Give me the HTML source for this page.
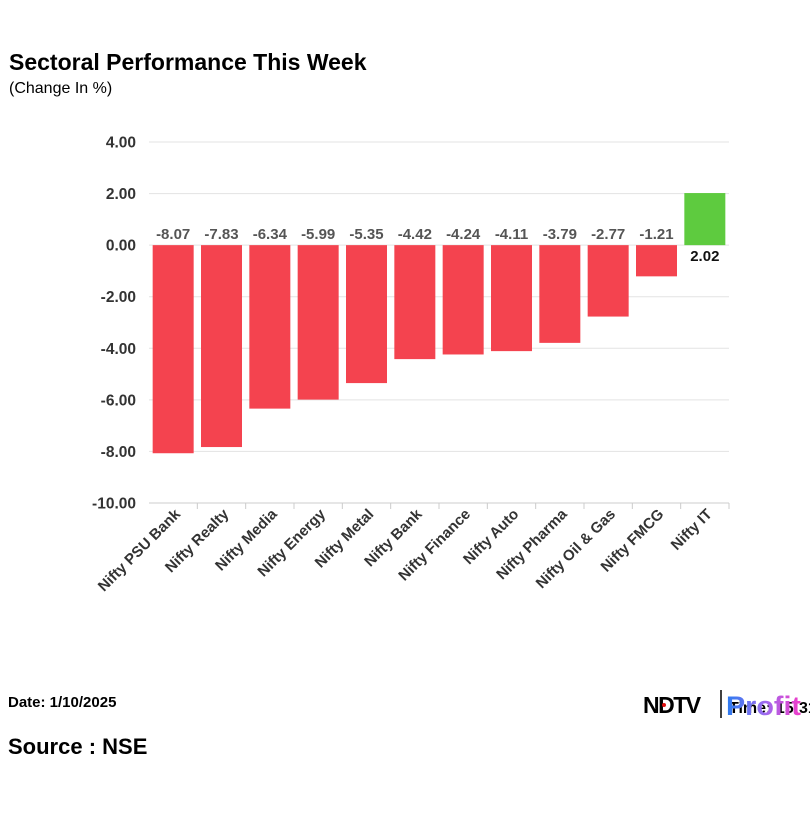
<!DOCTYPE html>
<html><head><meta charset="utf-8"><style>
body{margin:0;background:#fff;font-family:"Liberation Sans",sans-serif;}
svg text{font-family:"Liberation Sans",sans-serif;}
</style></head><body>
<svg width="810" height="810" xmlns="http://www.w3.org/2000/svg" id="chart">
<defs><linearGradient id="pg" x1="0" x2="1"><stop offset="0" stop-color="#2a7cf0"/><stop offset="0.5" stop-color="#9a6cf0"/><stop offset="1" stop-color="#f03cc8"/></linearGradient></defs>
<rect width="810" height="810" fill="#fff"/>
<text x="9" y="70" font-size="23" font-weight="bold" fill="#000">Sectoral Performance This Week</text>
<text x="9" y="93" font-size="16" fill="#000">(Change In %)</text>
<g id="grid"></g><g id="bars"></g><g id="labels"></g>
<text x="8" y="707" font-size="15" font-weight="bold" fill="#000">Date: 1/10/2025</text>
<text x="8" y="754" font-size="22" font-weight="bold" fill="#000">Source : NSE</text>
<g>
<text x="643" y="713" font-size="23" font-weight="bold" fill="#000" letter-spacing="-1.5">NDTV</text>
<circle cx="664" cy="705" r="2" fill="#e01010"/>
<line x1="721" y1="690" x2="721" y2="718" stroke="#000" stroke-width="1.5"/>
<text x="729" y="713" font-size="16" font-weight="bold" fill="#000">Time: 15:31</text>
<text x="726" y="715" font-size="27" font-weight="bold" fill="url(#pg)" textLength="75" lengthAdjust="spacingAndGlyphs">Profit</text>
</g>
</svg>
<script>
const categories=["Nifty PSU Bank","Nifty Realty","Nifty Media","Nifty Energy","Nifty Metal","Nifty Bank","Nifty Finance","Nifty Auto","Nifty Pharma","Nifty Oil & Gas","Nifty FMCG","Nifty IT"];
const values=[-8.07,-7.83,-6.34,-5.99,-5.35,-4.42,-4.24,-4.11,-3.79,-2.77,-1.21,2.02];
const ticks=[4,2,0,-2,-4,-6,-8,-10];
const NS="http://www.w3.org/2000/svg";
const x0=149,x1=729,yTop=142,yBot=503,vMax=4,vMin=-10;
const y=v=>yTop+(vMax-v)*(yBot-yTop)/(vMax-vMin);
const bw=(x1-x0)/categories.length;
const xc=i=>x0+bw*(i+0.5);
function mk(tag,attrs,parent){const e=document.createElementNS(NS,tag);for(const k in attrs)e.setAttribute(k,attrs[k]);parent.appendChild(e);return e;}
const G=document.getElementById('grid'),B=document.getElementById('bars'),L=document.getElementById('labels');
ticks.forEach(t=>{
 const ln=mk('line',{x1:x0,x2:x1,y1:y(t),y2:y(t),stroke:t===-10?'#ccc':'#e3e3e3','stroke-width':1},G);
 
 
 const tx=mk('text',{x:136,y:y(t)+5.5,'text-anchor':'end','font-size':15.5,'font-weight':'bold',fill:'#333'},G);
 tx.textContent=t.toFixed(2);
 
 
});
categories.forEach((c,i)=>{
 const v=values[i];
 const top=Math.min(y(v),y(0)),h=Math.abs(y(v)-y(0));
 const r=mk('rect',{x:xc(i)-20.5,y:top,width:41,height:h,fill:v<0?'#f4434f':'#5ecb3f'},B);
 
 
 const vl=mk('text',{x:xc(i),y:v<0?y(0)-6:y(0)+16,'text-anchor':'middle','font-size':15,'font-weight':'bold',fill:v<0?'#555':'#111'},L);
 vl.textContent=v.toFixed(2);
 
 
 const tk=mk('line',{x1:x0+bw*(i+1),x2:x0+bw*(i+1),y1:yBot,y2:yBot+6,stroke:'#ccc'},G);
 
 
 const ax=xc(i)+8,ay=yBot+12;
 const cl=mk('text',{x:ax,y:ay,'text-anchor':'end','font-size':15,'font-weight':'bold',fill:'#333',transform:`rotate(-45 ${ax} ${ay})`},L);
 cl.textContent=c;
 
 
});
</script>
</body></html>
